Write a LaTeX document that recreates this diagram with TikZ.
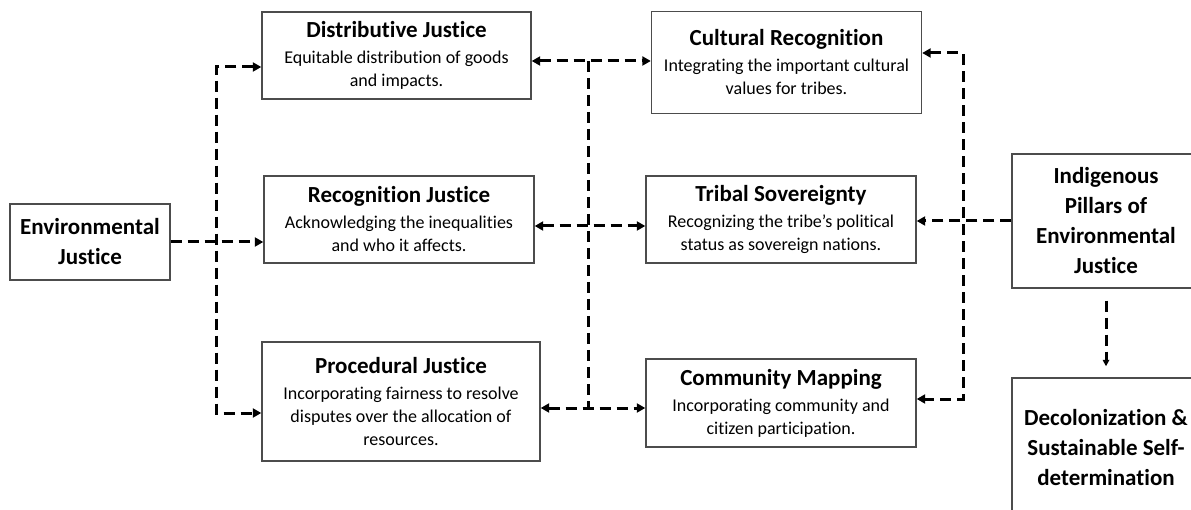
\documentclass[tikz,border=0pt]{standalone}
\usepackage{fontspec}
\setmainfont[Ligatures={NoCommon}]{Carlito}
\usetikzlibrary{arrows.meta}

\newcommand{\ttl}[1]{{\fontsize{23}{27}\selectfont\bfseries #1}}
\newcommand{\dsc}{\fontsize{18}{23}\selectfont}

\tikzset{
  box/.style={draw=black!70, line width=1.4pt, fill=white, align=center,
              inner sep=0pt, font=\dsc},
  bigbox/.style={box, font=\fontsize{23}{30}\selectfont\bfseries},
  flow/.style={line width=3pt, dash pattern=on 11pt off 6pt, black},
  tip/.tip={Triangle[length=8.5pt,width=9pt]},
  smalltip/.tip={Triangle[length=6.5pt,width=6.5pt]}
}

\begin{document}
\begin{tikzpicture}[x=1pt,y=-1pt]
\useasboundingbox (0,0) rectangle (1191,510);
\clip (0,0) rectangle (1191,510);

% left column
\node[bigbox, minimum width=160pt, minimum height=76pt] (ej) at (90,242)
  {Environmental\\Justice};

% justice boxes
\node[box, minimum width=269pt, minimum height=87pt] (dj) at (396.5,55.5)
  {\ttl{Distributive Justice}\\[3pt]Equitable distribution of goods\\and impacts.};
\node[box, minimum width=270pt, minimum height=87pt] (rj) at (399,219.5)
  {\ttl{Recognition Justice}\\[3pt]Acknowledging the inequalities\\and who it affects.};
\node[box, minimum width=278pt, minimum height=119pt] (pj) at (401,401.5)
  {\ttl{Procedural Justice}\\[3pt]Incorporating fairness to resolve\\disputes over the allocation of\\resources.};

% indigenous pillars
\node[box, minimum width=270pt, minimum height=102pt] (cr) at (786.5,62.5)
  {\ttl{Cultural Recognition}\\[3pt]Integrating the important cultural\\values for tribes.};
\node[box, minimum width=270pt, minimum height=87pt] (ts) at (781,219.5)
  {\ttl{Tribal Sovereignty}\\[3pt]Recognizing the tribe’s political\\status as sovereign nations.};
\node[box, minimum width=270pt, minimum height=88pt] (cm) at (781,403)
  {\ttl{Community Mapping}\\[3pt]Incorporating community and\\citizen participation.};

% right column
\node[bigbox, minimum width=188pt, minimum height=134pt] (ip) at (1106,221)
  {Indigenous\\Pillars of\\Environmental\\Justice};
\node[bigbox, minimum width=188pt, minimum height=140pt] (dc) at (1106,448)
  {Decolonization \&\\Sustainable Self-\\determination};

% branch points
\coordinate (L1) at (216,67);
\coordinate (L2) at (216,413);
\coordinate (M1) at (588,61);
\coordinate (M2) at (588,408);
\coordinate (M3) at (588,226);
\coordinate (R1) at (963,53);
\coordinate (R2) at (963,399);

% environmental justice to its three branches
\draw[flow, tip-tip] (L1 -| dj.west) -- (L1) -- (L2) -- (L2 -| pj.west);
\draw[flow, -tip] (ej.east) -- (ej.east -| rj.west);

% links between the two middle columns
\draw[flow, tip-tip] (M1 -| dj.east) -- (M1 -| cr.west);
\draw[flow] (M1) -- (M2);
\draw[flow, tip-tip] (M3 -| rj.east) -- (M3 -| ts.west);
\draw[flow, tip-tip] (M2 -| pj.east) -- (M2 -| cm.west);

% indigenous pillars to their three branches
\draw[flow, tip-tip] (R1 -| cr.east) -- (R1) -- (R2) -- (R2 -| cm.east);
\draw[flow, -tip] (ip.west) -- (ip.west -| ts.east);

% pillars lead to decolonization
\draw[flow, -smalltip, shorten <=12pt, shorten >=11pt] (ip.south) -- (dc.north);
\end{tikzpicture}
\end{document}
